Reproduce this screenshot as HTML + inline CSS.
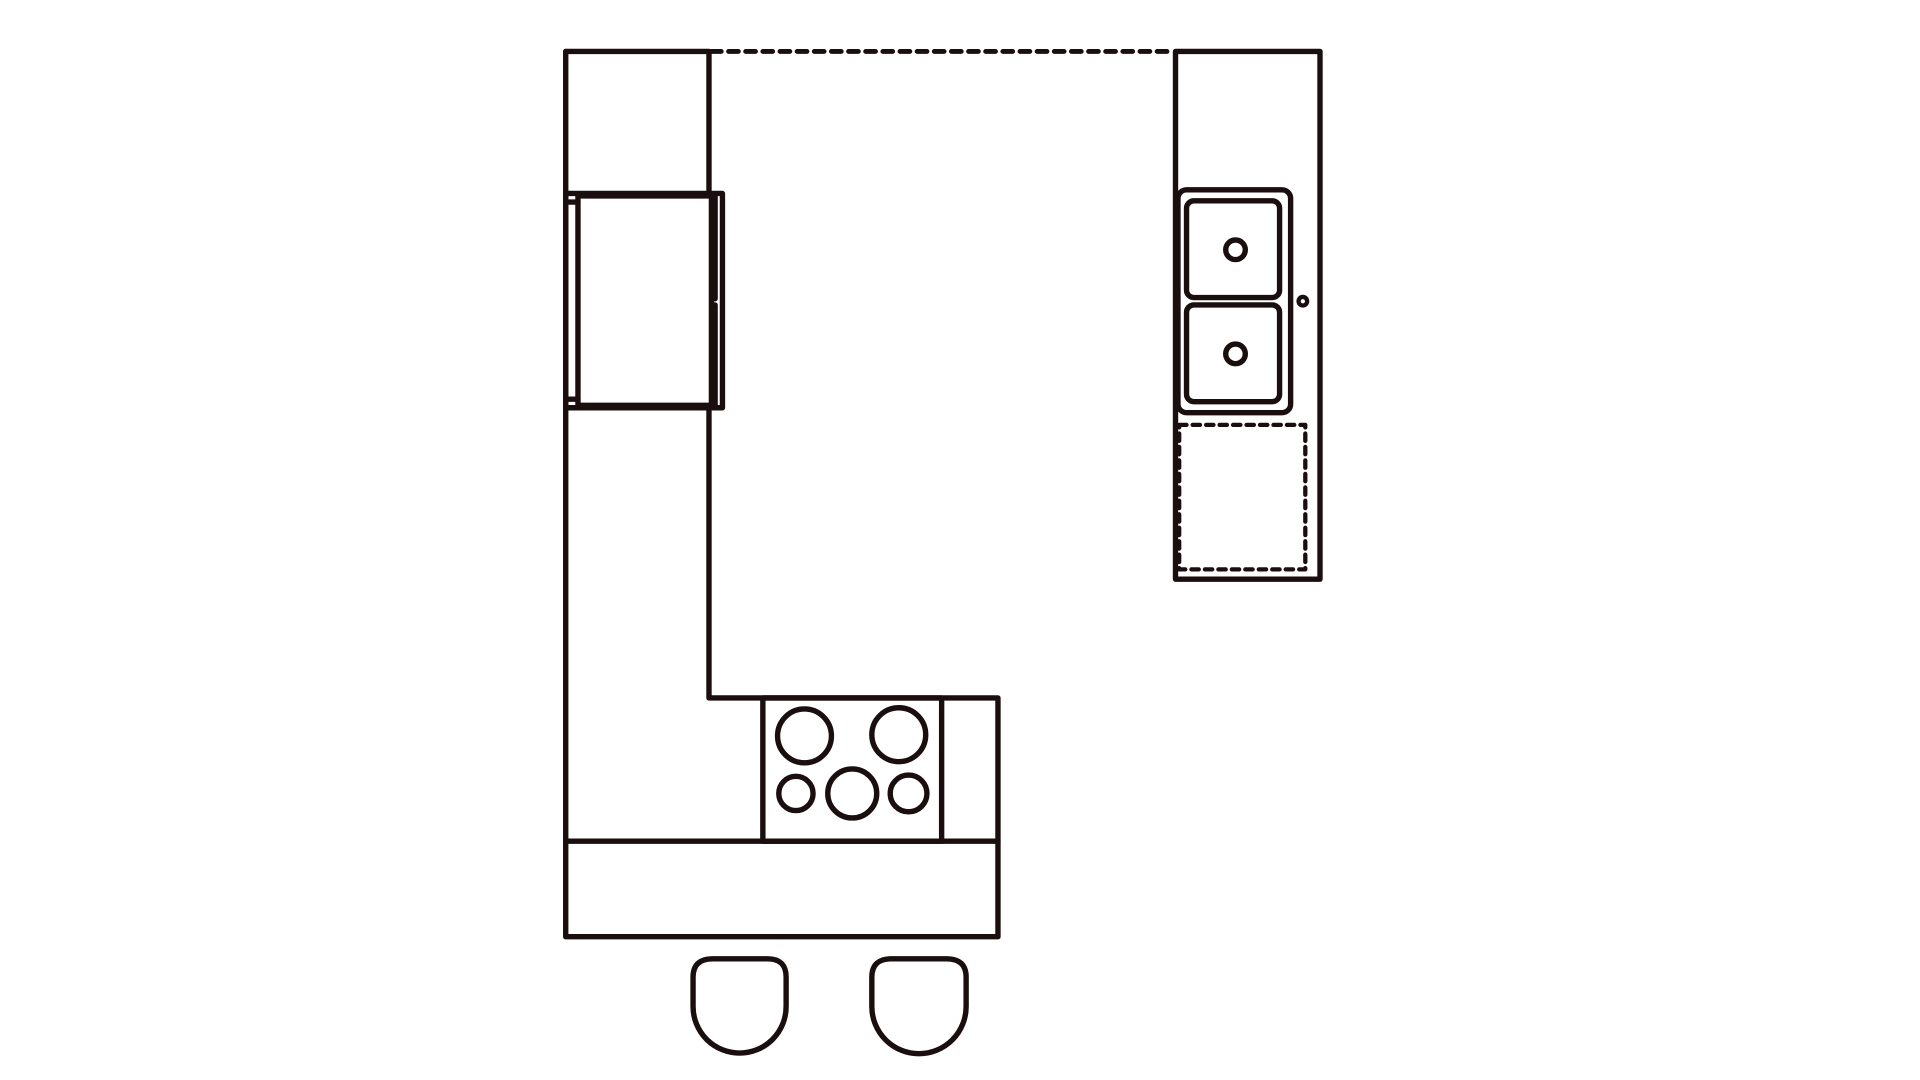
<!DOCTYPE html>
<html><head><style>html,body{margin:0;padding:0;background:#fff;width:1920px;height:1080px;overflow:hidden}</style></head>
<body>
<svg width="1920" height="1080" viewBox="0 0 1568 882" xmlns="http://www.w3.org/2000/svg">
<g fill="none" stroke="#1a0e0e" stroke-width="4.4" stroke-linejoin="round" stroke-linecap="round">
<path d="M462,42 L462,765 L815,765 L815,570 L579,570 L579,334"/>
<path d="M462,42 L579,42 L579,158"/>
<rect x="462" y="158" width="128" height="175"/>
<rect x="472" y="160" width="109" height="171"/>
<path d="M462,165 L472,165 M462,326 L472,326"/>
<path d="M584,160 L584,244 M584,249 L584,331"/>
<path d="M581,42 L958,42" stroke-dasharray="8,6" stroke-width="4"/>
<rect x="960" y="42" width="118" height="431"/>
<rect x="962" y="155" width="92" height="182" rx="7"/>
<rect x="969" y="164" width="76" height="79" rx="6"/>
<rect x="969" y="249" width="76" height="79" rx="6"/>
<circle cx="1009" cy="204" r="8"/>
<circle cx="1009" cy="289" r="8"/>
<circle cx="1064" cy="246" r="3.5" stroke-width="3.5"/>
<rect x="963" y="347" width="103" height="118" stroke-dasharray="6,5" stroke-width="3.5"/>
<path d="M462,687 L815,687"/>
<rect x="623" y="570" width="146" height="117"/>
<circle cx="657" cy="601" r="22"/>
<circle cx="734" cy="600" r="22"/>
<circle cx="650" cy="648" r="14"/>
<circle cx="696" cy="648" r="20"/>
<circle cx="742" cy="648" r="15"/>
<path d="M566,798 Q566,783 582,783 L627,783 Q642,783 642,798 L642,822 A38,38 0 0 1 566,822 Z"/>
<path d="M712,798 Q712,783 728,783 L773,783 Q789,783 789,798 L789,822 A38.5,38.5 0 0 1 712,822 Z"/>
</g>
</svg>
</body></html>
